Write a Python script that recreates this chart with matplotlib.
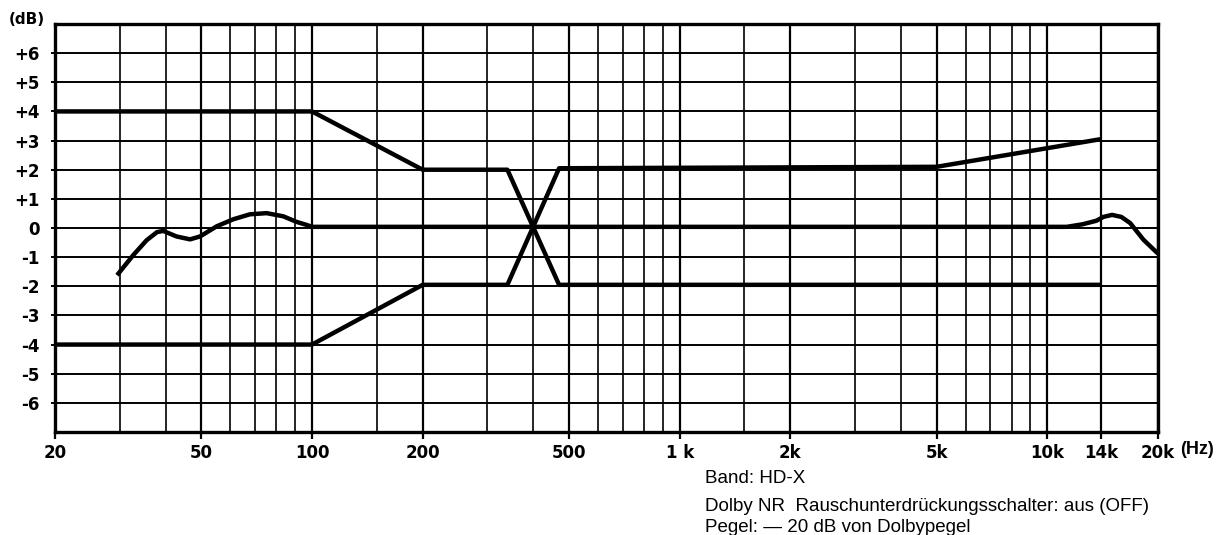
import matplotlib
matplotlib.use("Agg")
import matplotlib.pyplot as plt

# ---- data ----
resp_f = [29.5, 32.6, 35.5, 37.9, 39.4, 42.8, 46.6, 49.6, 55.1, 61.1, 67.8, 75.3,
          83.6, 90.8, 97, 100, 150, 300, 1000, 3000, 10200, 11300, 12500, 13600,
          14200, 15000, 15900, 16800, 18250, 20000]
resp_db = [-1.62, -0.94, -0.42, -0.14, -0.10, -0.29, -0.39, -0.29, 0.06, 0.30, 0.47, 0.51,
           0.40, 0.21, 0.10, 0.04, 0.04, 0.04, 0.04, 0.04, 0.04, 0.04, 0.13, 0.25,
           0.38, 0.45, 0.38, 0.17, -0.40, -0.88]

upper_f = [20, 100, 200, 340, 470, 14000]
upper_db = [4.0, 4.0, 2.0, 2.0, -1.95, -1.95]

lower_f = [20, 100, 200, 340, 470, 5000, 14000]
lower_db = [-4.0, -4.0, -1.95, -1.95, 2.05, 2.1, 3.05]

major_ticks = [20, 50, 100, 200, 500, 1000, 2000, 5000, 10000, 14000, 20000]
major_labels = ["20", "50", "100", "200", "500", "1 k", "2k", "5k", "10k", "14k", "20k"]
minor_ticks = [30, 40, 60, 70, 80, 90, 150, 300, 400, 600, 700, 800, 900,
               1500, 3000, 4000, 6000, 7000, 8000, 9000]
y_ticks = [6, 5, 4, 3, 2, 1, 0, -1, -2, -3, -4, -5, -6]
y_labels = ["+6", "+5", "+4", "+3", "+2", "+1", "0", "-1", "-2", "-3", "-4", "-5", "-6"]

notes = ["Band: HD-X",
         "Dolby NR  Rauschunterdrückungsschalter: aus (OFF)",
         "Pegel: — 20 dB von Dolbypegel"]

plt.rcParams['font.family'] = ['Liberation Sans', 'DejaVu Sans']

W, H = 1216, 535
fig = plt.figure(figsize=(W / 100, H / 100), dpi=100)
ax = fig.add_axes([55 / W, 1 - 432 / H, (1158 - 55) / W, (432 - 24) / H])

ax.set_xscale('log')
ax.set_xlim(20, 20000)
ax.set_ylim(-7, 7)

ax.set_xticks(major_ticks)
ax.set_xticklabels(major_labels)
ax.set_xticks(minor_ticks, minor=True)
ax.set_xticklabels([], minor=True)
ax.set_yticks(y_ticks)
ax.set_yticklabels(y_labels)

for v in major_ticks:
    ax.axvline(v, color='black', lw=1.6, zorder=1)
for v in minor_ticks:
    ax.axvline(v, color='black', lw=1.2, zorder=1)
for v in y_ticks:
    ax.axhline(v, color='black', lw=1.4, zorder=1)

ax.tick_params(axis='x', which='major', direction='out', length=5, width=1.6,
               pad=4, labelsize=12)
ax.tick_params(axis='x', which='minor', length=0)
ax.tick_params(axis='y', which='major', direction='out', length=3, width=1.4,
               pad=8, labelsize=12)
for lab in ax.get_xticklabels() + ax.get_yticklabels():
    lab.set_fontweight('bold')
    lab.set_family(['DejaVu Sans'])

for s in ax.spines.values():
    s.set_linewidth(2.4)
    s.set_color('black')

lw_curve = 3.2
ax.plot(resp_f, resp_db, color='black', lw=lw_curve, solid_capstyle='butt', zorder=3)
ax.plot(upper_f, upper_db, color='black', lw=lw_curve, solid_capstyle='butt', zorder=3)
ax.plot(lower_f, lower_db, color='black', lw=lw_curve, solid_capstyle='butt', zorder=3)

fig.text(9 / W, 1 - 20 / H, "(dB)", fontsize=11, fontweight='bold',
         family=['DejaVu Sans'], ha='left', va='center')
fig.text(1180 / W, 1 - 450 / H, "(Hz)", fontsize=13, fontweight='bold', ha='left', va='center')

for txt, yb in zip(notes, [483, 511, 532]):
    fig.text(705 / W, 1 - yb / H, txt, fontsize=13.5, ha='left', va='baseline')

fig.savefig("out.png", dpi=100, facecolor='white')
